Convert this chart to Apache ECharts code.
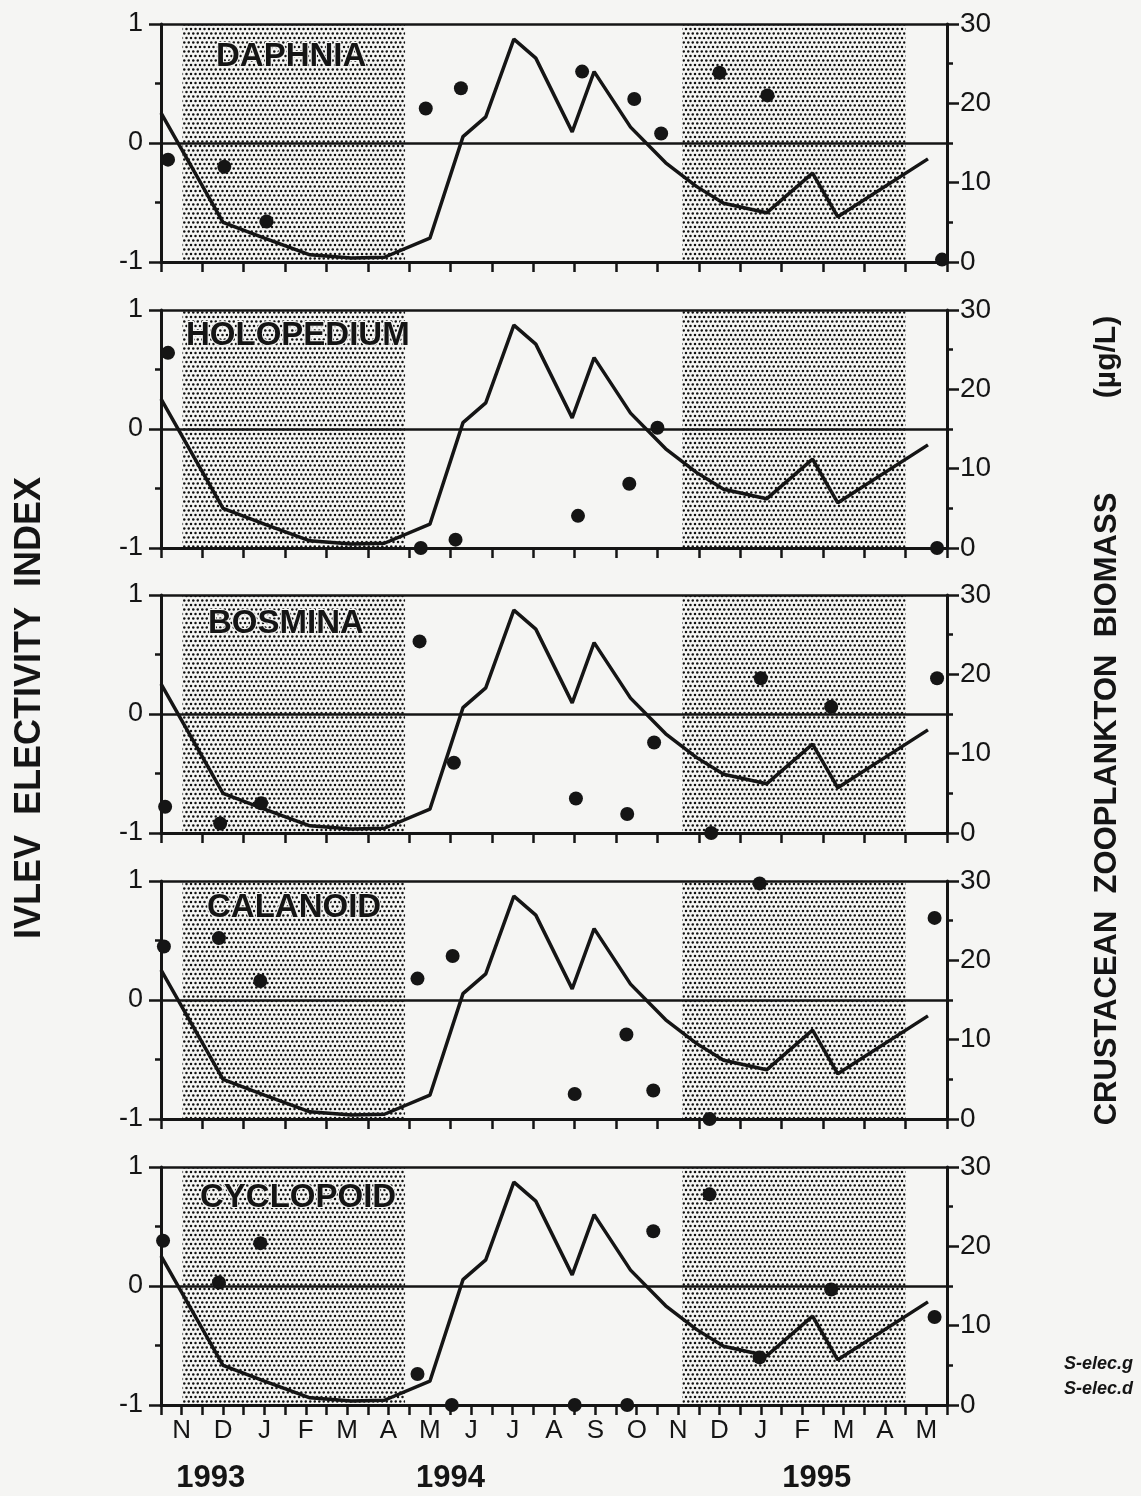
<!DOCTYPE html>
<html><head><meta charset="utf-8">
<script src="https://cdn.jsdelivr.net/npm/echarts@6/dist/echarts.min.js"></script>
<style>html,body{margin:0;padding:0;background:#f5f5f3;}#c{width:1141px;height:1496px;}</style>
</head><body><div id="c"></div>
<script>
// ---- data (x in months since 1 Nov 1993) ----
const monthLabels = ['N','D','J','F','M','A','M','J','J','A','S','O','N','D','J','F','M','A','M'];
const yearLabels = ['1993','1994','1995'];
const yearAt = [1.2, 7.0, 15.85];
const panelNames = ['DAPHNIA','HOLOPEDIUM','BOSMINA','CALANOID','CYCLOPOID'];
const winterStart = [0.52, 12.6];
const winterEnd = [5.9, 18.0];

const biomassMonth = [0, 1.5, 2.5, 3.6, 4.6, 5.4, 6.5, 7.3, 7.85, 8.53, 9.06, 9.94, 10.47, 11.35, 12.2, 12.95, 13.6, 14.64, 15.75, 16.36, 18.54];
const biomass =      [18.8, 5.0, 3.0, 0.9, 0.5, 0.6, 3.0, 15.8, 18.3, 28.1, 25.7, 16.4, 24.0, 17.0, 12.5, 9.5, 7.4, 6.2, 11.2, 5.7, 13.0];

const daphniaMonth = [0.17, 1.53, 2.55, 6.4, 7.25, 10.18, 11.44, 12.09, 13.5, 14.66, 18.88];
const daphnia =      [-0.14, -0.20, -0.66, 0.29, 0.46, 0.60, 0.37, 0.08, 0.59, 0.40, -0.98];
const holopediumMonth = [0.17, 6.28, 7.12, 10.08, 11.32, 12.0, 18.76];
const holopedium =      [0.64, -1.0, -0.93, -0.73, -0.46, 0.01, -1.0];
const bosminaMonth = [0.1, 1.43, 2.42, 6.25, 7.08, 10.03, 11.27, 11.92, 13.3, 14.5, 16.2, 18.76];
const bosmina =      [-0.78, -0.92, -0.75, 0.61, -0.41, -0.71, -0.84, -0.24, -1.0, 0.30, 0.06, 0.30];
const calanoidMonth = [0.07, 1.4, 2.4, 6.2, 7.05, 10.0, 11.25, 11.9, 13.26, 14.47, 18.7];
const calanoid =      [0.45, 0.52, 0.16, 0.18, 0.37, -0.79, -0.29, -0.76, -1.0, 0.98, 0.69];
const cyclopoidMonth = [0.05, 1.4, 2.4, 6.2, 7.03, 10.0, 11.27, 11.9, 13.26, 14.47, 16.2, 18.7];
const cyclopoid =      [0.38, 0.03, 0.36, -0.74, -1.0, -1.0, -1.0, 0.46, 0.77, -0.60, -0.03, -0.26];

const electMonths = [daphniaMonth, holopediumMonth, bosminaMonth, calanoidMonth, cyclopoidMonth];
const electValues = [daphnia, holopedium, bosmina, calanoid, cyclopoid];

// ---- styling / layout ----
const INK = '#151515';
const BG = '#f5f5f3';
const FONT = '"Liberation Sans", Arial, sans-serif';
const tops = [24, 310, 595, 881, 1167];
const titleLeft = [216, 186, 208, 207, 200];
const titleY = [57, 336, 624, 908, 1198];
const GL = 161, GR = 194, GH = 238;

function makePattern(){
  const c = document.createElement('canvas'); c.width = 9; c.height = 9;
  const g = c.getContext('2d'); g.fillStyle = '#111';
  [[2,2],[6.5,2],[-2.5,2],[4.25,6.5],[8.75,6.5],[-0.25,6.5],[2,11],[6.5,11],[2,-2.5],[6.5,-2.5]].forEach(p=>{g.beginPath(); g.arc(p[0],p[1],1.25,0,Math.PI*2); g.fill();});
  return c;
}
const pattern = {image: makePattern(), repeat: 'repeat'};

const grid = [], xAxis = [], yAxis = [], series = [];
for (let i = 0; i < 5; i++) {
  const last = i === 4;
  grid.push({left: GL, right: GR, top: tops[i], height: GH});
  xAxis.push({
    gridIndex: i, type: 'value', min: 0, max: 19, interval: last ? 0.5 : 1,
    axisLine: {show: true, onZero: false, lineStyle: {color: INK, width: 3}},
    axisTick: {show: true, length: 10, lineStyle: {color: INK, width: 2.5}},
    axisLabel: {show: last, color: INK, fontSize: 26, fontFamily: FONT, margin: 13,
      formatter: v => { const f = v - Math.floor(v); return Math.abs(f - 0.5) < 1e-6 ? monthLabels[Math.floor(v)] : ''; }},
    splitLine: {show: false}
  });
  yAxis.push({
    gridIndex: i, type: 'value', min: -1, max: 1, interval: 1, position: 'left',
    axisLine: {show: true, onZero: false, lineStyle: {color: INK, width: 3}},
    axisTick: {show: true, length: 12, lineStyle: {color: INK, width: 2.5}},
    minorTick: {show: true, splitNumber: 2, length: 6, lineStyle: {color: INK, width: 2.5}},
    axisLabel: {color: INK, fontSize: 27, fontFamily: FONT, margin: 18},
    splitLine: {show: false}
  });
  yAxis.push({
    gridIndex: i, type: 'value', min: 0, max: 30, interval: 10, position: 'right',
    axisLine: {show: true, onZero: false, lineStyle: {color: INK, width: 3}},
    axisTick: {show: true, length: 12, lineStyle: {color: INK, width: 2.5}},
    minorTick: {show: true, splitNumber: 2, length: 6, lineStyle: {color: INK, width: 2.5}},
    axisLabel: {color: INK, fontSize: 28, fontFamily: FONT, margin: 13},
    splitLine: {show: false}
  });
  series.push({
    type: 'line', xAxisIndex: i, yAxisIndex: 2*i+1, z: 3,
    data: biomassMonth.map((m, k) => [m, biomass[k]]),
    symbol: 'none', lineStyle: {color: INK, width: 3.5}, silent: true, animation: false,
    markArea: {silent: true, itemStyle: {color: pattern, opacity: 1},
      data: winterStart.map((s, k) => [{xAxis: s}, {xAxis: winterEnd[k]}])}
  });
  series.push({
    type: 'scatter', xAxisIndex: i, yAxisIndex: 2*i, z: 4,
    data: electMonths[i].map((m, k) => [m, electValues[i][k]]),
    symbol: 'circle', symbolSize: 14, itemStyle: {color: INK, opacity: 1}, animation: false,
    markLine: {silent: true, symbol: ['none','none'], label: {show: false}, animation: false,
      lineStyle: {color: INK, width: 2.5, type: 'solid', opacity: 1},
      data: [{yAxis: 0}, {yAxis: 1}]}
  });
}

const chart = echarts.init(document.getElementById('c'), null, {renderer: 'canvas'});
chart.setOption({backgroundColor: BG, animation: false, grid, xAxis, yAxis, series});

const graphic = [];
panelNames.forEach((n, i) => graphic.push({type: 'text', x: titleLeft[i], y: titleY[i], z: 10,
  style: {text: n, fill: INK, font: 'bold 33px ' + FONT, textAlign: 'left', textVerticalAlign: 'middle',
    stroke: BG, lineWidth: 2}}));
yearLabels.forEach((y, k) => {
  const px = chart.convertToPixel({xAxisIndex: 4}, yearAt[k]);
  graphic.push({type: 'text', x: px, y: 1478, style: {text: y, fill: INK, font: 'bold 31px ' + FONT, textAlign: 'center', textVerticalAlign: 'middle'}});
});
graphic.push({type: 'text', x: 30, y: 708, rotation: Math.PI/2,
  style: {text: 'IVLEV  ELECTIVITY  INDEX', fill: INK, font: 'bold 36px ' + FONT, textAlign: 'center', textVerticalAlign: 'middle'}});
graphic.push({type: 'text', x: 1107, y: 809, rotation: Math.PI/2,
  style: {text: 'CRUSTACEAN  ZOOPLANKTON  BIOMASS', fill: INK, font: 'bold 31px ' + FONT, textAlign: 'center', textVerticalAlign: 'middle'}});
graphic.push({type: 'text', x: 1107, y: 357, rotation: Math.PI/2,
  style: {text: '(µg/L)', fill: INK, font: 'bold 30px ' + FONT, textAlign: 'center', textVerticalAlign: 'middle'}});
graphic.push({type: 'text', x: 1133, y: 1364, style: {text: 'S-elec.g', fill: INK, font: 'italic bold 18px ' + FONT, textAlign: 'right', textVerticalAlign: 'middle'}});
graphic.push({type: 'text', x: 1133, y: 1389, style: {text: 'S-elec.d', fill: INK, font: 'italic bold 18px ' + FONT, textAlign: 'right', textVerticalAlign: 'middle'}});
chart.setOption({graphic});
</script></body></html>
